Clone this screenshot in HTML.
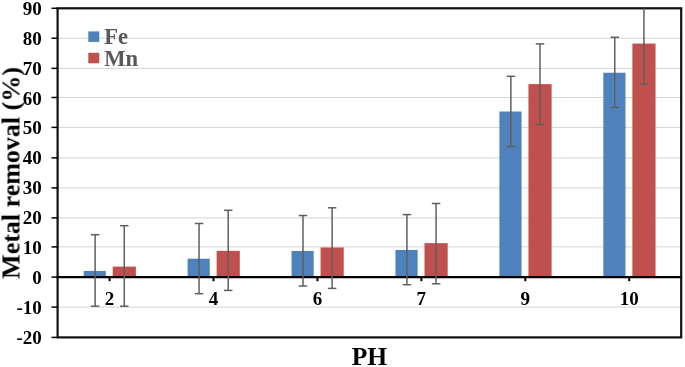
<!DOCTYPE html>
<html><head><meta charset="utf-8"><style>
html,body{margin:0;padding:0;background:#fff;}
svg{display:block;}
text{will-change:transform;}
.t{font-family:"Liberation Serif",serif;font-weight:bold;font-size:19px;fill:#000;}
.ti{font-family:"Liberation Serif",serif;font-weight:bold;font-size:25.5px;fill:#000;}
.ty{font-family:"Liberation Serif",serif;font-weight:bold;font-size:26px;fill:#000;}
.lg{font-family:"Liberation Serif",serif;font-weight:bold;font-size:22.6px;fill:#595959;}
</style></head><body>
<svg width="685" height="367" viewBox="0 0 685 367">
<rect width="685" height="367" fill="#fff"/>
<line x1="57.6" y1="307.10" x2="681.2" y2="307.10" stroke="#d4d4d4" stroke-width="1"/>
<line x1="57.6" y1="246.90" x2="681.2" y2="246.90" stroke="#d4d4d4" stroke-width="1"/>
<line x1="57.6" y1="217.90" x2="681.2" y2="217.90" stroke="#d4d4d4" stroke-width="1"/>
<line x1="57.6" y1="187.90" x2="681.2" y2="187.90" stroke="#d4d4d4" stroke-width="1"/>
<line x1="57.6" y1="157.90" x2="681.2" y2="157.90" stroke="#d4d4d4" stroke-width="1"/>
<line x1="57.6" y1="127.40" x2="681.2" y2="127.40" stroke="#d4d4d4" stroke-width="1"/>
<line x1="57.6" y1="97.50" x2="681.2" y2="97.50" stroke="#d4d4d4" stroke-width="1"/>
<line x1="57.6" y1="68.35" x2="681.2" y2="68.35" stroke="#d4d4d4" stroke-width="1"/>
<line x1="57.6" y1="38.25" x2="681.2" y2="38.25" stroke="#d4d4d4" stroke-width="1"/>
<rect x="83.67" y="270.97" width="22.15" height="6.28" fill="#4f81bd"/>
<rect x="112.72" y="266.61" width="23.15" height="10.64" fill="#c0504d"/>
<rect x="187.60" y="258.71" width="22.15" height="18.54" fill="#4f81bd"/>
<rect x="216.65" y="250.85" width="23.15" height="26.40" fill="#c0504d"/>
<rect x="291.53" y="250.94" width="22.15" height="26.31" fill="#4f81bd"/>
<rect x="320.58" y="247.44" width="23.15" height="29.81" fill="#c0504d"/>
<rect x="395.47" y="249.95" width="22.15" height="27.30" fill="#4f81bd"/>
<rect x="424.52" y="243.16" width="23.15" height="34.09" fill="#c0504d"/>
<rect x="499.40" y="111.51" width="22.15" height="165.74" fill="#4f81bd"/>
<rect x="528.45" y="84.10" width="23.15" height="193.15" fill="#c0504d"/>
<rect x="603.33" y="72.73" width="22.15" height="204.52" fill="#4f81bd"/>
<rect x="632.38" y="43.58" width="23.15" height="233.67" fill="#c0504d"/>
<line x1="56.6" y1="277.1" x2="681.2" y2="277.1" stroke="#000" stroke-width="2.1"/>
<rect x="57.6" y="8.3" width="623.60" height="329.10" fill="none" stroke="#111" stroke-width="2.2"/>
<line x1="95.12" y1="306.19" x2="95.12" y2="234.70" stroke="#5f5f5f" stroke-width="1.5"/>
<line x1="90.87" y1="306.19" x2="99.37" y2="306.19" stroke="#5f5f5f" stroke-width="1.5"/>
<line x1="90.87" y1="234.70" x2="99.37" y2="234.70" stroke="#5f5f5f" stroke-width="1.5"/>
<line x1="124.27" y1="306.19" x2="124.27" y2="225.70" stroke="#5f5f5f" stroke-width="1.5"/>
<line x1="120.02" y1="306.19" x2="128.52" y2="306.19" stroke="#5f5f5f" stroke-width="1.5"/>
<line x1="120.02" y1="225.70" x2="128.52" y2="225.70" stroke="#5f5f5f" stroke-width="1.5"/>
<line x1="199.05" y1="293.69" x2="199.05" y2="223.49" stroke="#5f5f5f" stroke-width="1.5"/>
<line x1="194.80" y1="293.69" x2="203.30" y2="293.69" stroke="#5f5f5f" stroke-width="1.5"/>
<line x1="194.80" y1="223.49" x2="203.30" y2="223.49" stroke="#5f5f5f" stroke-width="1.5"/>
<line x1="228.20" y1="290.41" x2="228.20" y2="210.30" stroke="#5f5f5f" stroke-width="1.5"/>
<line x1="223.95" y1="290.41" x2="232.45" y2="290.41" stroke="#5f5f5f" stroke-width="1.5"/>
<line x1="223.95" y1="210.30" x2="232.45" y2="210.30" stroke="#5f5f5f" stroke-width="1.5"/>
<line x1="302.98" y1="286.01" x2="302.98" y2="215.51" stroke="#5f5f5f" stroke-width="1.5"/>
<line x1="298.73" y1="286.01" x2="307.23" y2="286.01" stroke="#5f5f5f" stroke-width="1.5"/>
<line x1="298.73" y1="215.51" x2="307.23" y2="215.51" stroke="#5f5f5f" stroke-width="1.5"/>
<line x1="332.13" y1="288.40" x2="332.13" y2="207.79" stroke="#5f5f5f" stroke-width="1.5"/>
<line x1="327.88" y1="288.40" x2="336.38" y2="288.40" stroke="#5f5f5f" stroke-width="1.5"/>
<line x1="327.88" y1="207.79" x2="336.38" y2="207.79" stroke="#5f5f5f" stroke-width="1.5"/>
<line x1="406.92" y1="284.70" x2="406.92" y2="214.61" stroke="#5f5f5f" stroke-width="1.5"/>
<line x1="402.67" y1="284.70" x2="411.17" y2="284.70" stroke="#5f5f5f" stroke-width="1.5"/>
<line x1="402.67" y1="214.61" x2="411.17" y2="214.61" stroke="#5f5f5f" stroke-width="1.5"/>
<line x1="436.07" y1="283.80" x2="436.07" y2="203.49" stroke="#5f5f5f" stroke-width="1.5"/>
<line x1="431.82" y1="283.80" x2="440.32" y2="283.80" stroke="#5f5f5f" stroke-width="1.5"/>
<line x1="431.82" y1="203.49" x2="440.32" y2="203.49" stroke="#5f5f5f" stroke-width="1.5"/>
<line x1="510.85" y1="146.59" x2="510.85" y2="76.32" stroke="#5f5f5f" stroke-width="1.5"/>
<line x1="506.60" y1="146.59" x2="515.10" y2="146.59" stroke="#5f5f5f" stroke-width="1.5"/>
<line x1="506.60" y1="76.32" x2="515.10" y2="76.32" stroke="#5f5f5f" stroke-width="1.5"/>
<line x1="540.00" y1="124.46" x2="540.00" y2="43.91" stroke="#5f5f5f" stroke-width="1.5"/>
<line x1="535.75" y1="124.46" x2="544.25" y2="124.46" stroke="#5f5f5f" stroke-width="1.5"/>
<line x1="535.75" y1="43.91" x2="544.25" y2="43.91" stroke="#5f5f5f" stroke-width="1.5"/>
<line x1="614.78" y1="107.42" x2="614.78" y2="37.30" stroke="#5f5f5f" stroke-width="1.5"/>
<line x1="610.53" y1="107.42" x2="619.03" y2="107.42" stroke="#5f5f5f" stroke-width="1.5"/>
<line x1="610.53" y1="37.30" x2="619.03" y2="37.30" stroke="#5f5f5f" stroke-width="1.5"/>
<line x1="643.93" y1="84.10" x2="643.93" y2="8.30" stroke="#5f5f5f" stroke-width="1.5"/>
<line x1="639.68" y1="84.10" x2="648.18" y2="84.10" stroke="#5f5f5f" stroke-width="1.5"/>
<line x1="51.5" y1="337.40" x2="57.6" y2="337.40" stroke="#000" stroke-width="1.5"/>
<line x1="51.5" y1="307.10" x2="57.6" y2="307.10" stroke="#000" stroke-width="1.5"/>
<line x1="51.5" y1="277.10" x2="57.6" y2="277.10" stroke="#000" stroke-width="1.5"/>
<line x1="51.5" y1="246.90" x2="57.6" y2="246.90" stroke="#000" stroke-width="1.5"/>
<line x1="51.5" y1="217.90" x2="57.6" y2="217.90" stroke="#000" stroke-width="1.5"/>
<line x1="51.5" y1="187.90" x2="57.6" y2="187.90" stroke="#000" stroke-width="1.5"/>
<line x1="51.5" y1="157.90" x2="57.6" y2="157.90" stroke="#000" stroke-width="1.5"/>
<line x1="51.5" y1="127.40" x2="57.6" y2="127.40" stroke="#000" stroke-width="1.5"/>
<line x1="51.5" y1="97.50" x2="57.6" y2="97.50" stroke="#000" stroke-width="1.5"/>
<line x1="51.5" y1="68.35" x2="57.6" y2="68.35" stroke="#000" stroke-width="1.5"/>
<line x1="51.5" y1="38.25" x2="57.6" y2="38.25" stroke="#000" stroke-width="1.5"/>
<line x1="51.5" y1="8.30" x2="57.6" y2="8.30" stroke="#000" stroke-width="1.5"/>
<line x1="109.57" y1="277.25" x2="109.57" y2="281.2" stroke="#000" stroke-width="2"/>
<line x1="213.50" y1="277.25" x2="213.50" y2="281.2" stroke="#000" stroke-width="2"/>
<line x1="317.43" y1="277.25" x2="317.43" y2="281.2" stroke="#000" stroke-width="2"/>
<line x1="421.37" y1="277.25" x2="421.37" y2="281.2" stroke="#000" stroke-width="2"/>
<line x1="525.30" y1="277.25" x2="525.30" y2="281.2" stroke="#000" stroke-width="2"/>
<line x1="629.23" y1="277.25" x2="629.23" y2="281.2" stroke="#000" stroke-width="2"/>
<text x="41.8" y="343.75" text-anchor="end" class="t">-20</text>
<text x="41.8" y="313.85" text-anchor="end" class="t">-10</text>
<text x="41.8" y="283.95" text-anchor="end" class="t">0</text>
<text x="41.8" y="254.05" text-anchor="end" class="t">10</text>
<text x="41.8" y="224.15" text-anchor="end" class="t">20</text>
<text x="41.8" y="194.25" text-anchor="end" class="t">30</text>
<text x="41.8" y="164.35" text-anchor="end" class="t">40</text>
<text x="41.8" y="134.45" text-anchor="end" class="t">50</text>
<text x="41.8" y="104.55" text-anchor="end" class="t">60</text>
<text x="41.8" y="74.65" text-anchor="end" class="t">70</text>
<text x="41.8" y="44.75" text-anchor="end" class="t">80</text>
<text x="41.8" y="14.85" text-anchor="end" class="t">90</text>
<text x="109.57" y="304.5" text-anchor="middle" class="t">2</text>
<text x="213.50" y="304.5" text-anchor="middle" class="t">4</text>
<text x="317.43" y="304.5" text-anchor="middle" class="t">6</text>
<text x="421.37" y="304.5" text-anchor="middle" class="t">7</text>
<text x="525.30" y="304.5" text-anchor="middle" class="t">9</text>
<text x="629.23" y="304.5" text-anchor="middle" class="t">10</text>
<text x="369.5" y="365" text-anchor="middle" class="ti">PH</text>
<text transform="translate(19.5,172.9) rotate(-90)" text-anchor="middle" class="ty">Metal removal (%)</text>
<rect x="88.3" y="31.4" width="11" height="10.5" fill="#4f81bd"/>
<rect x="88.3" y="52.8" width="11" height="10.5" fill="#c0504d"/>
<text x="104.2" y="43.6" class="lg">Fe</text>
<text x="104.2" y="65.6" class="lg">Mn</text>
</svg>
</body></html>
